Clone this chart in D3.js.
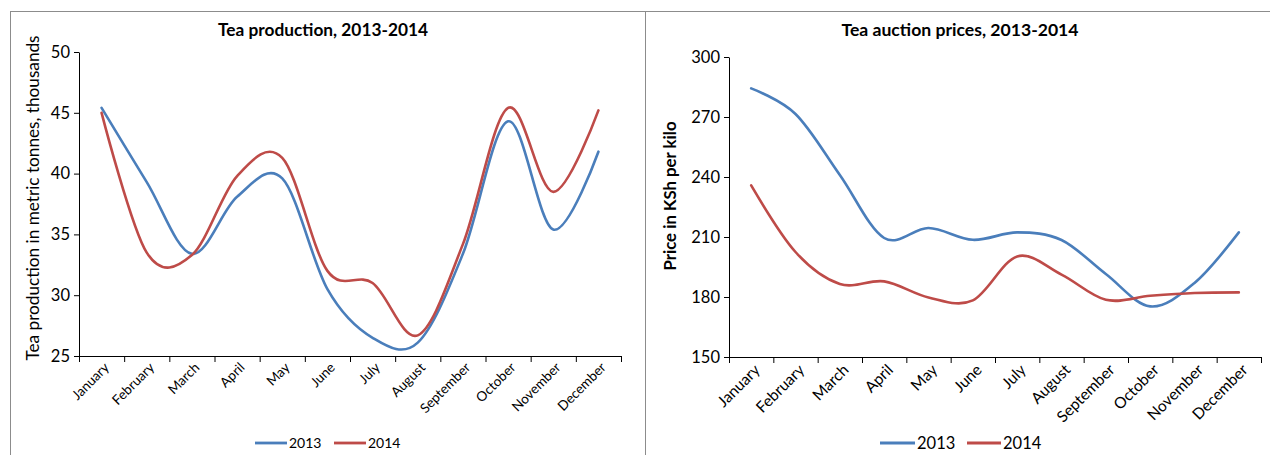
<!DOCTYPE html>
<html>
<head>
<meta charset="utf-8">
<script src="https://cdn.jsdelivr.net/npm/d3@7"></script>
<style>
  html, body { margin: 0; padding: 0; background: #fff; }
  svg { display: block; }
  text { font-family: Lato, "Open Sans", sans-serif; fill: #000; }
</style>
</head>
<body>
<svg id="chart" width="1270" height="455"></svg>
<script>
// ---- data ----
const months = ["January","February","March","April","May","June","July","August","September","October","November","December"];
const seriesNames = ["2013", "2014"];
const production2013 = [45.4, 39.3, 33.4, 38.1, 39.6, 30.5, 26.5, 26.1, 33.4, 44.3, 35.4, 41.8];
const production2014 = [45.0, 33.5, 33.3, 39.8, 41.3, 32.0, 31.0, 26.7, 34.2, 45.4, 38.5, 45.2];
const price2013 = [284.3, 271.5, 241, 209.5, 214.5, 208.6, 212.3, 208.5, 191.5, 175.3, 187, 212.3];
const price2014 = [235.8, 202.5, 186.5, 187.8, 179.8, 178.3, 200.3, 191.2, 178.6, 180.6, 182, 182.3];
const productionTicks = [25, 30, 35, 40, 45, 50];
const priceTicks = [150, 180, 210, 240, 270, 300];

const colors = ["#4A7EBB", "#BE4B48"];
const svg = d3.select("#chart");

// panel borders
svg.append("rect").attr("x", 10.5).attr("y", 11.5).attr("width", 635).attr("height", 470)
  .attr("fill", "none").attr("stroke", "#8c8c8c");
svg.append("rect").attr("x", 645.5).attr("y", 11.5).attr("width", 640).attr("height", 470)
  .attr("fill", "none").attr("stroke", "#8c8c8c");

function drawPanel(cfg) {
  const g = svg.append("g");
  const x = d3.scaleBand().domain(months).range([cfg.x0, cfg.x1]).padding(0);
  const xb = d3.scaleLinear().domain([0, months.length]).range([cfg.x0, cfg.x1]);
  const y = d3.scaleLinear().domain(cfg.domain).range([cfg.y1, cfg.y0]);

  // title
  g.append("text").attr("x", cfg.titleX).attr("y", 36)
    .attr("text-anchor", "middle").attr("font-weight", "bold")
    .attr("font-size", cfg.titleSize).text(cfg.title);

  // y axis
  const ya = g.append("g").attr("transform", `translate(${cfg.x0},0)`)
    .call(d3.axisLeft(y).tickValues(cfg.ticks).tickSize(5).tickSizeOuter(0).tickPadding(4));
  ya.selectAll("text").attr("font-size", cfg.tickSize).style("font-family", "Lato, sans-serif");
  ya.selectAll("line, path").attr("stroke", "#000");

  // x axis tick marks (at category boundaries)
  const xa = g.append("g").attr("transform", `translate(0,${cfg.y1})`)
    .call(d3.axisBottom(xb).tickValues(d3.range(0, months.length + 1)).tickFormat("").tickSize(6).tickSizeOuter(0));
  xa.selectAll("line, path").attr("stroke", "#000");

  // month labels
  g.append("g").selectAll("text").data(months).join("text")
    .attr("transform", d => `translate(${x(d) + x.bandwidth() / 2 + cfg.labDx},${cfg.y1 + cfg.labDy}) rotate(-45)`)
    .attr("text-anchor", "end").attr("dy", "0.35em")
    .attr("font-size", cfg.monthSize).text(d => d);

  // y title
  g.append("text")
    .attr("transform", `translate(${cfg.yTitleX},${cfg.yTitleY}) rotate(-90)`)
    .attr("text-anchor", "middle").attr("font-size", cfg.yTitleSize)
    .attr("font-weight", cfg.yTitleWeight).text(cfg.yTitle);

  // lines
  const line = d3.line()
    .x((d, i) => x(months[i]) + x.bandwidth() / 2)
    .y(d => y(d))
    .curve(d3.curveCardinal.tension(0));
  cfg.series.forEach((s, i) => {
    g.append("path").datum(s).attr("d", line)
      .attr("fill", "none").attr("stroke", colors[i]).attr("stroke-width", 2.6)
      .attr("stroke-linecap", "round");
  });

  // legend
  const lg = g.append("g");
  cfg.legend.forEach((L, i) => {
    lg.append("line").attr("x1", L.lx0).attr("x2", L.lx1).attr("y1", 443).attr("y2", 443)
      .attr("stroke", colors[i]).attr("stroke-width", 2.8);
    lg.append("text").attr("x", L.tx).attr("y", 443).attr("dy", "0.35em")
      .attr("font-size", cfg.legendSize).text(seriesNames[i]);
  });
}

drawPanel({
  x0: 79, x1: 621, y0: 52, y1: 356,
  domain: [25, 50], ticks: productionTicks,
  title: "Tea production, 2013-2014", titleX: 323, titleSize: 17.3,
  tickSize: 16.5, monthSize: 13.5, labDx: 5, labDy: 9,
  yTitle: "Tea production in metric tonnes, thousands", yTitleX: 39, yTitleY: 198,
  yTitleSize: 17.2, yTitleWeight: "normal",
  series: [production2013, production2014],
  legend: [{lx0: 255, lx1: 287, tx: 289}, {lx0: 334, lx1: 366, tx: 368}],
  legendSize: 14
});

drawPanel({
  x0: 729, x1: 1261, y0: 57, y1: 357,
  domain: [150, 300], ticks: priceTicks,
  title: "Tea auction prices, 2013-2014", titleX: 960, titleSize: 17.6,
  tickSize: 16.5, monthSize: 15.5, labDx: 6, labDy: 10,
  yTitle: "Price in KSh per kilo", yTitleX: 676, yTitleY: 196,
  yTitleSize: 16.8, yTitleWeight: "bold",
  series: [price2013, price2014],
  legend: [{lx0: 880, lx1: 915, tx: 917}, {lx0: 967, lx1: 1001, tx: 1003}],
  legendSize: 16.5
});
</script>
</body>
</html>
